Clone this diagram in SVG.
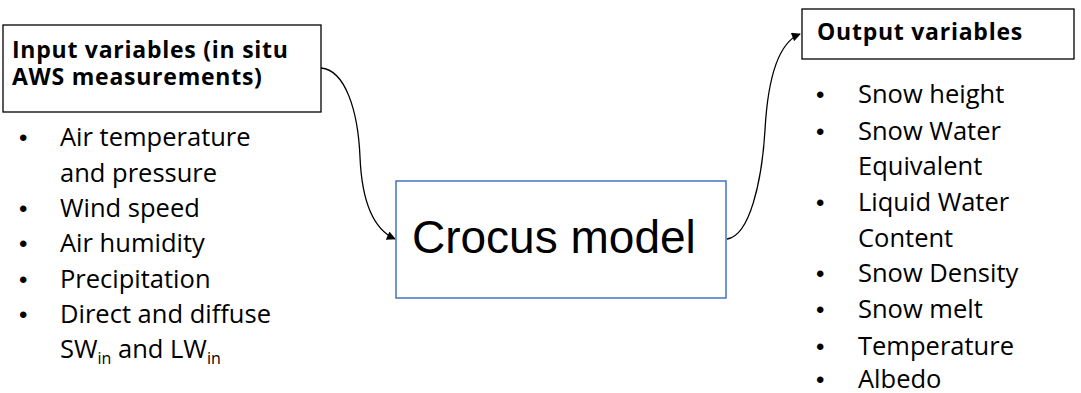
<svg xmlns="http://www.w3.org/2000/svg" width="1081" height="393" viewBox="0 0 1081 393">
<style>
.box{fill:#fff;stroke:#000;stroke-width:1.3}
.model{fill:#fff;stroke:#4472C4;stroke-width:1.5}
.h{font-family:"Open Sans","Liberation Sans",sans-serif;font-weight:bold;font-size:23px;letter-spacing:0.75px;fill:#000}
.t{font-family:"Open Sans","Liberation Sans",sans-serif;font-size:25.5px;fill:#000}
.b{font-family:"Liberation Sans",sans-serif;font-size:24px;fill:#000}
.big{font-family:"Liberation Sans",sans-serif;font-size:46px;fill:#000}
.sub{font-size:16px}
.c{fill:none;stroke:#000;stroke-width:1.3;marker-end:url(#ah)}
</style>
<defs>
<marker id="ah" viewBox="0 0 10 10" refX="9" refY="5" markerWidth="10" markerHeight="9" markerUnits="userSpaceOnUse" orient="auto">
<path d="M0,0 L10,5 L0,10 z" fill="#000"/>
</marker>
</defs>
<g id="connectors">
<path class="c" d="M321,68 C345,70 358,110 360,157 C362,205 375,230 395,239"/>
<path class="c" d="M727,239 C750,236 762,180 765,130 C768,75 780,42 800,34"/>
</g>
<g id="input">
<rect class="box" x="3" y="25" width="318" height="87"/>
<text class="h"><tspan x="12" y="58">Input variables (in situ</tspan><tspan x="12" y="85">AWS measurements)</tspan></text>
<g class="b">
<text x="19" y="146">•</text>
<text x="19" y="217">•</text>
<text x="19" y="252">•</text>
<text x="19" y="288">•</text>
<text x="19" y="323">•</text>
</g>
<g class="t">
<text x="60" y="146">Air temperature</text>
<text x="60" y="182">and pressure</text>
<text x="60" y="217">Wind speed</text>
<text x="60" y="252">Air humidity</text>
<text x="60" y="288">Precipitation</text>
<text x="60" y="323">Direct and diffuse</text>
<text x="60" y="358">SW<tspan class="sub" dy="6">in</tspan><tspan dy="-6"> and LW</tspan><tspan class="sub" dy="6">in</tspan></text>
</g>
</g>
<g id="model">
<rect class="model" x="396" y="181" width="330" height="117"/>
<text class="big" x="412" y="253">Crocus model</text>
</g>
<g id="output">
<rect class="box" x="802" y="9" width="272" height="50"/>
<text class="h" x="817" y="40">Output variables</text>
<g class="b">
<text x="816" y="103">•</text>
<text x="816" y="140">•</text>
<text x="816" y="211">•</text>
<text x="816" y="282">•</text>
<text x="816" y="318">•</text>
<text x="816" y="355">•</text>
<text x="816" y="388">•</text>
</g>
<g class="t">
<text x="858" y="103">Snow height</text>
<text x="858" y="140">Snow Water</text>
<text x="858" y="175">Equivalent</text>
<text x="858" y="211">Liquid Water</text>
<text x="858" y="247">Content</text>
<text x="858" y="282">Snow Density</text>
<text x="858" y="318">Snow melt</text>
<text x="858" y="355">Temperature</text>
<text x="858" y="388">Albedo</text>
</g>
</g>
</svg>
